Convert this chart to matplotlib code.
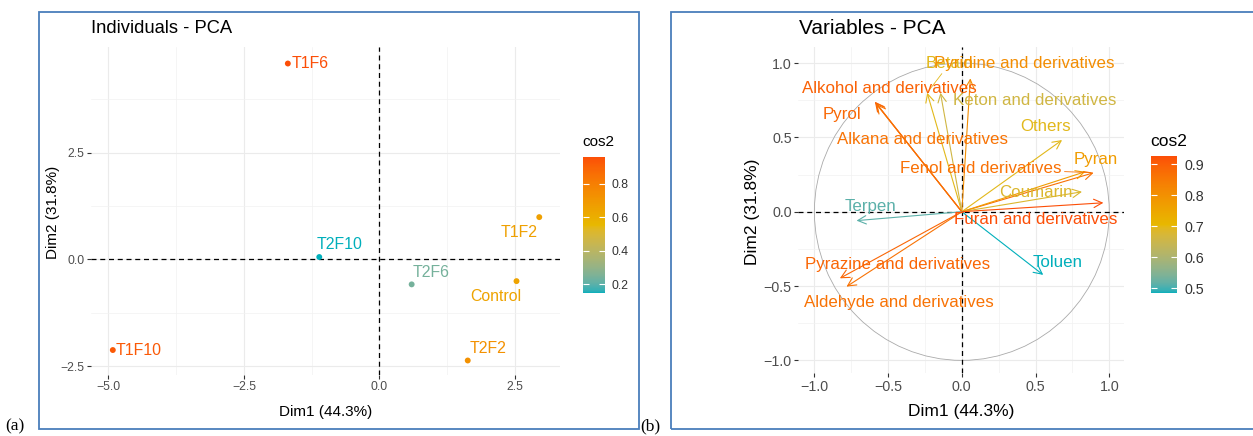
import numpy as np
import matplotlib
matplotlib.use('Agg')
import matplotlib.pyplot as plt
from matplotlib.colors import ListedColormap, Normalize, to_rgb
from matplotlib.cm import ScalarMappable
from matplotlib.patches import Circle, Rectangle

# individuals (PCA scores on Dim1/Dim2) and their quality of representation
ind_names = ['T1F6', 'T2F10', 'T1F2', 'T2F6', 'Control', 'T1F10', 'T2F2']
ind_x = [-1.69, -1.11, 2.95, 0.595, 2.53, -4.92, 1.63]
ind_y = [4.59, 0.055, 0.99, -0.586, -0.51, -2.125, -2.37]
ind_cos2 = [0.963, 0.146, 0.66, 0.24, 0.65, 0.93, 0.73]
# label positions after repel
ind_lab_x = [-1.27, -0.73, 2.57, 0.96, 2.15, -4.44, 2.0]
ind_lab_y = [4.59, 0.34, 0.63, -0.31, -0.875, -2.125, -2.10]

# variables (loadings on Dim1/Dim2)
var_names = ['Betain', 'Pyridine and derivatives', 'Alkohol and derivatives',
             'Keton and derivatives', 'Pyrol', 'Alkana and derivatives', 'Others',
             'Fenol and derivatives', 'Pyran', 'Coumarin', 'Terpen',
             'Furan and derivatives', 'Toluen', 'Pyrazine and derivatives',
             'Aldehyde and derivatives']
var_x = [-0.235, 0.058, -0.59, -0.145, -0.585, -0.58, 0.68,
         0.894, 0.837, 0.815, -0.714, 0.96, 0.552, -0.827, -0.782]
var_y = [0.80, 0.897, 0.74, 0.80, 0.735, 0.725, 0.482,
         0.262, 0.269, 0.134, -0.06, 0.06, -0.425, -0.448, -0.504]
var_lab_x = [-0.082, 0.421, -0.488, 0.497, -0.814, -0.268, 0.569,
             0.13, 0.911, 0.502, -0.622, 0.499, 0.65, -0.434, -0.428]
var_lab_y = [0.998, 0.998, 0.83, 0.745, 0.655, 0.487, 0.572,
             0.292, 0.352, 0.128, 0.034, -0.051, -0.343, -0.358, -0.612]
var_linked = ['Betain', 'Fenol and derivatives']

var_cos2 = [x ** 2 + y ** 2 for x, y in zip(var_x, var_y)]

grad_cols = ['#00AFBB', '#E7B800', '#FC4E07']

# gradient interpolated in CIE Lab, like scales::colour_ramp
WHITE = np.array([0.95047, 1.0, 1.08883])
M = np.array([[0.4124, 0.3576, 0.1805],
              [0.2126, 0.7152, 0.0722],
              [0.0193, 0.1192, 0.9505]])


def to_lab(c):
    rgb = np.array(to_rgb(c))
    lin = np.where(rgb <= 0.04045, rgb / 12.92, ((rgb + 0.055) / 1.055) ** 2.4)
    xyz = M @ lin / WHITE
    d = 6 / 29
    f = np.where(xyz > d ** 3, np.cbrt(xyz), xyz / (3 * d ** 2) + 4 / 29)
    return np.array([116 * f[1] - 16, 500 * (f[0] - f[1]), 200 * (f[1] - f[2])])


def from_lab(lab):
    L, a, b = lab
    fy = (L + 16) / 116
    f = np.array([fy + a / 500, fy, fy - b / 200])
    d = 6 / 29
    xyz = np.where(f > d, f ** 3, 3 * d ** 2 * (f - 4 / 29)) * WHITE
    lin = np.linalg.solve(M, xyz)
    lin = np.clip(lin, 0, 1)
    rgb = np.where(lin <= 0.0031308, 12.92 * lin, 1.055 * lin ** (1 / 2.4) - 0.055)
    return np.clip(rgb, 0, 1)


labs = [to_lab(c) for c in grad_cols]
ramp = []
for t in np.linspace(0, 1, 256):
    pos = t * (len(labs) - 1)
    i = min(int(pos), len(labs) - 2)
    u = pos - i
    ramp.append(from_lab(labs[i] * (1 - u) + labs[i + 1] * u))
cmap = ListedColormap(ramp)

k = 0.88
left_font = ['Liberation Sans']
plt.rcParams['font.family'] = ['Liberation Sans']

W, H = 1253, 436
fig = plt.figure(figsize=(W / 100, H / 100), dpi=100)


def box(x0, y0, x1, y1):
    # pixel box (top-left origin) -> figure fraction rect
    return [x0 / W, 1 - y1 / H, (x1 - x0) / W, (y1 - y0) / H]


# frames around the two panels
for x0, x1 in [(38.5, 638.5), (670.5, 1260)]:
    fig.patches.append(Rectangle((x0 / W, 1 - 428.5 / H), (x1 - x0) / W, 416 / H,
                                 transform=fig.transFigure, fill=False,
                                 edgecolor='#4A7EBB', lw=1.3, zorder=10))
fig.text(5 / W, 1 - 430 / H, '(a)', family='Liberation Serif', fontsize=12.5, va='baseline')
fig.text(640 / W, 1 - 430 / H, '(b)', family='Liberation Serif', fontsize=12.5, va='baseline')


def style_axes(ax, tsize):
    ax.set_facecolor('white')
    for s in ax.spines.values():
        s.set_visible(False)
    ax.grid(True, which='major', color='#EBEBEB', lw=0.8)
    ax.grid(True, which='minor', color='#F2F2F2', lw=0.5)
    ax.tick_params(which='major', length=3, width=0.8, color='#333333',
                   labelcolor='#4D4D4D', labelsize=tsize, pad=1.5)
    ax.tick_params(which='minor', length=0)
    ax.axhline(0, color='black', lw=0.9, ls=(0, (4, 3)), zorder=1.8)
    ax.axvline(0, color='black', lw=0.9, ls=(0, (4, 3)), zorder=1.8)


def colorbar(rect, norm, ticks, size):
    cax = fig.add_axes(rect)
    cb = fig.colorbar(ScalarMappable(norm=norm, cmap=cmap), cax=cax)
    cb.outline.set_visible(False)
    cb.set_ticks(ticks)
    cb.set_ticklabels(['%.1f' % t for t in ticks])
    cax.yaxis.set_ticks_position('both')
    cax.tick_params(direction='in', length=4, width=0.8, color='white',
                    labelcolor='#333333', labelsize=size, pad=5,
                    left=True, right=True, labelleft=False, labelright=True)
    return cax


# ---- (a) individuals ----
ax1 = fig.add_axes(box(90.6, 47.3, 560.4, 375))
ax1.set_xlim(-5.33, 3.34)
ax1.set_ylim(-2.71, 4.97)
ax1.set_xticks([-5.0, -2.5, 0.0, 2.5])
ax1.set_yticks([-2.5, 0.0, 2.5])
ax1.set_xticks([-3.75, -1.25, 1.25], minor=True)
ax1.set_yticks([-1.25, 1.25, 3.75], minor=True)
style_axes(ax1, 10 * k)

norm1 = Normalize(0.146, 0.963)
cols1 = cmap(norm1(ind_cos2))
ax1.scatter(ind_x, ind_y, s=18, c=cols1, zorder=3, linewidths=0)
for name, lx, ly, c in zip(ind_names, ind_lab_x, ind_lab_y, cols1):
    ax1.text(lx, ly, name, color=c, fontsize=13 * k,
             ha='center', va='center', zorder=4)

fig.text(90.6 / W, 1 - 28 / H, 'Individuals - PCA', fontsize=15 * k,
         va='center', ha='left')
fig.text(325.5 / W, 1 - 412 / H, 'Dim1 (44.3%)', fontsize=12.5 * k,
         ha='center', va='center')
fig.text(53 / W, 1 - 212 / H, 'Dim2 (31.8%)', fontsize=12.5 * k,
         ha='center', va='center', rotation=90)

colorbar(box(582.7, 156.7, 605, 293.3), norm1, [0.2, 0.4, 0.6, 0.8], 10 * k)
fig.text(582.7 / W, 1 - 142 / H, 'cos2', fontsize=12.5 * k, va='center', ha='left')

# ---- (b) variables ----
ax2 = fig.add_axes(box(798, 46.7, 1124, 373.3))
ax2.set_xlim(-1.111, 1.10)
ax2.set_ylim(-1.087, 1.11)
ax2.set_xticks([-1.0, -0.5, 0.0, 0.5, 1.0])
ax2.set_yticks([-1.0, -0.5, 0.0, 0.5, 1.0])
ax2.set_xticks([-0.75, -0.25, 0.25, 0.75], minor=True)
ax2.set_yticks([-0.75, -0.25, 0.25, 0.75], minor=True)
style_axes(ax2, 10.3)
ax2.add_patch(Circle((0, 0), 1, fill=False, edgecolor='#AAAAAA', lw=0.6, zorder=1.7))

norm2 = Normalize(0.484, 0.926)
cols2 = cmap(norm2(var_cos2))
for x, y, c in zip(var_x, var_y, cols2):
    ax2.annotate('', xy=(x, y), xytext=(0, 0),
                 arrowprops=dict(arrowstyle='->,head_length=0.6,head_width=0.3',
                                 lw=0.8, color=c, shrinkA=0, shrinkB=0,
                                 mutation_scale=10), zorder=2)
for name, x, y, lx, ly, c in zip(var_names, var_x, var_y, var_lab_x, var_lab_y, cols2):
    if name in var_linked:
        ax2.annotate(name, xy=(x, y), xytext=(lx, ly), color=c, fontsize=12.2,
                     ha='center', va='center', zorder=4,
                     arrowprops=dict(arrowstyle='-', lw=0.6, color=c,
                                     shrinkA=0, shrinkB=2))
    else:
        ax2.text(lx, ly, name, color=c, fontsize=12.2, ha='center', va='center',
                 zorder=4)

fig.text(799 / W, 1 - 28 / H, 'Variables - PCA', fontsize=15, va='center', ha='left')
fig.text(961.4 / W, 1 - 411.7 / H, 'Dim1 (44.3%)', fontsize=12.5, ha='center', va='center')
fig.text(752.7 / W, 1 - 212 / H, 'Dim2 (31.8%)', fontsize=12.5, ha='center',
         va='center', rotation=90)

colorbar(box(1150.7, 156, 1177.3, 293.3), norm2, [0.5, 0.6, 0.7, 0.8, 0.9], 10.3)
fig.text(1150.7 / W, 1 - 142 / H, 'cos2', fontsize=12.5, va='center', ha='left')

fig.savefig('out.png', dpi=100, facecolor='white')
